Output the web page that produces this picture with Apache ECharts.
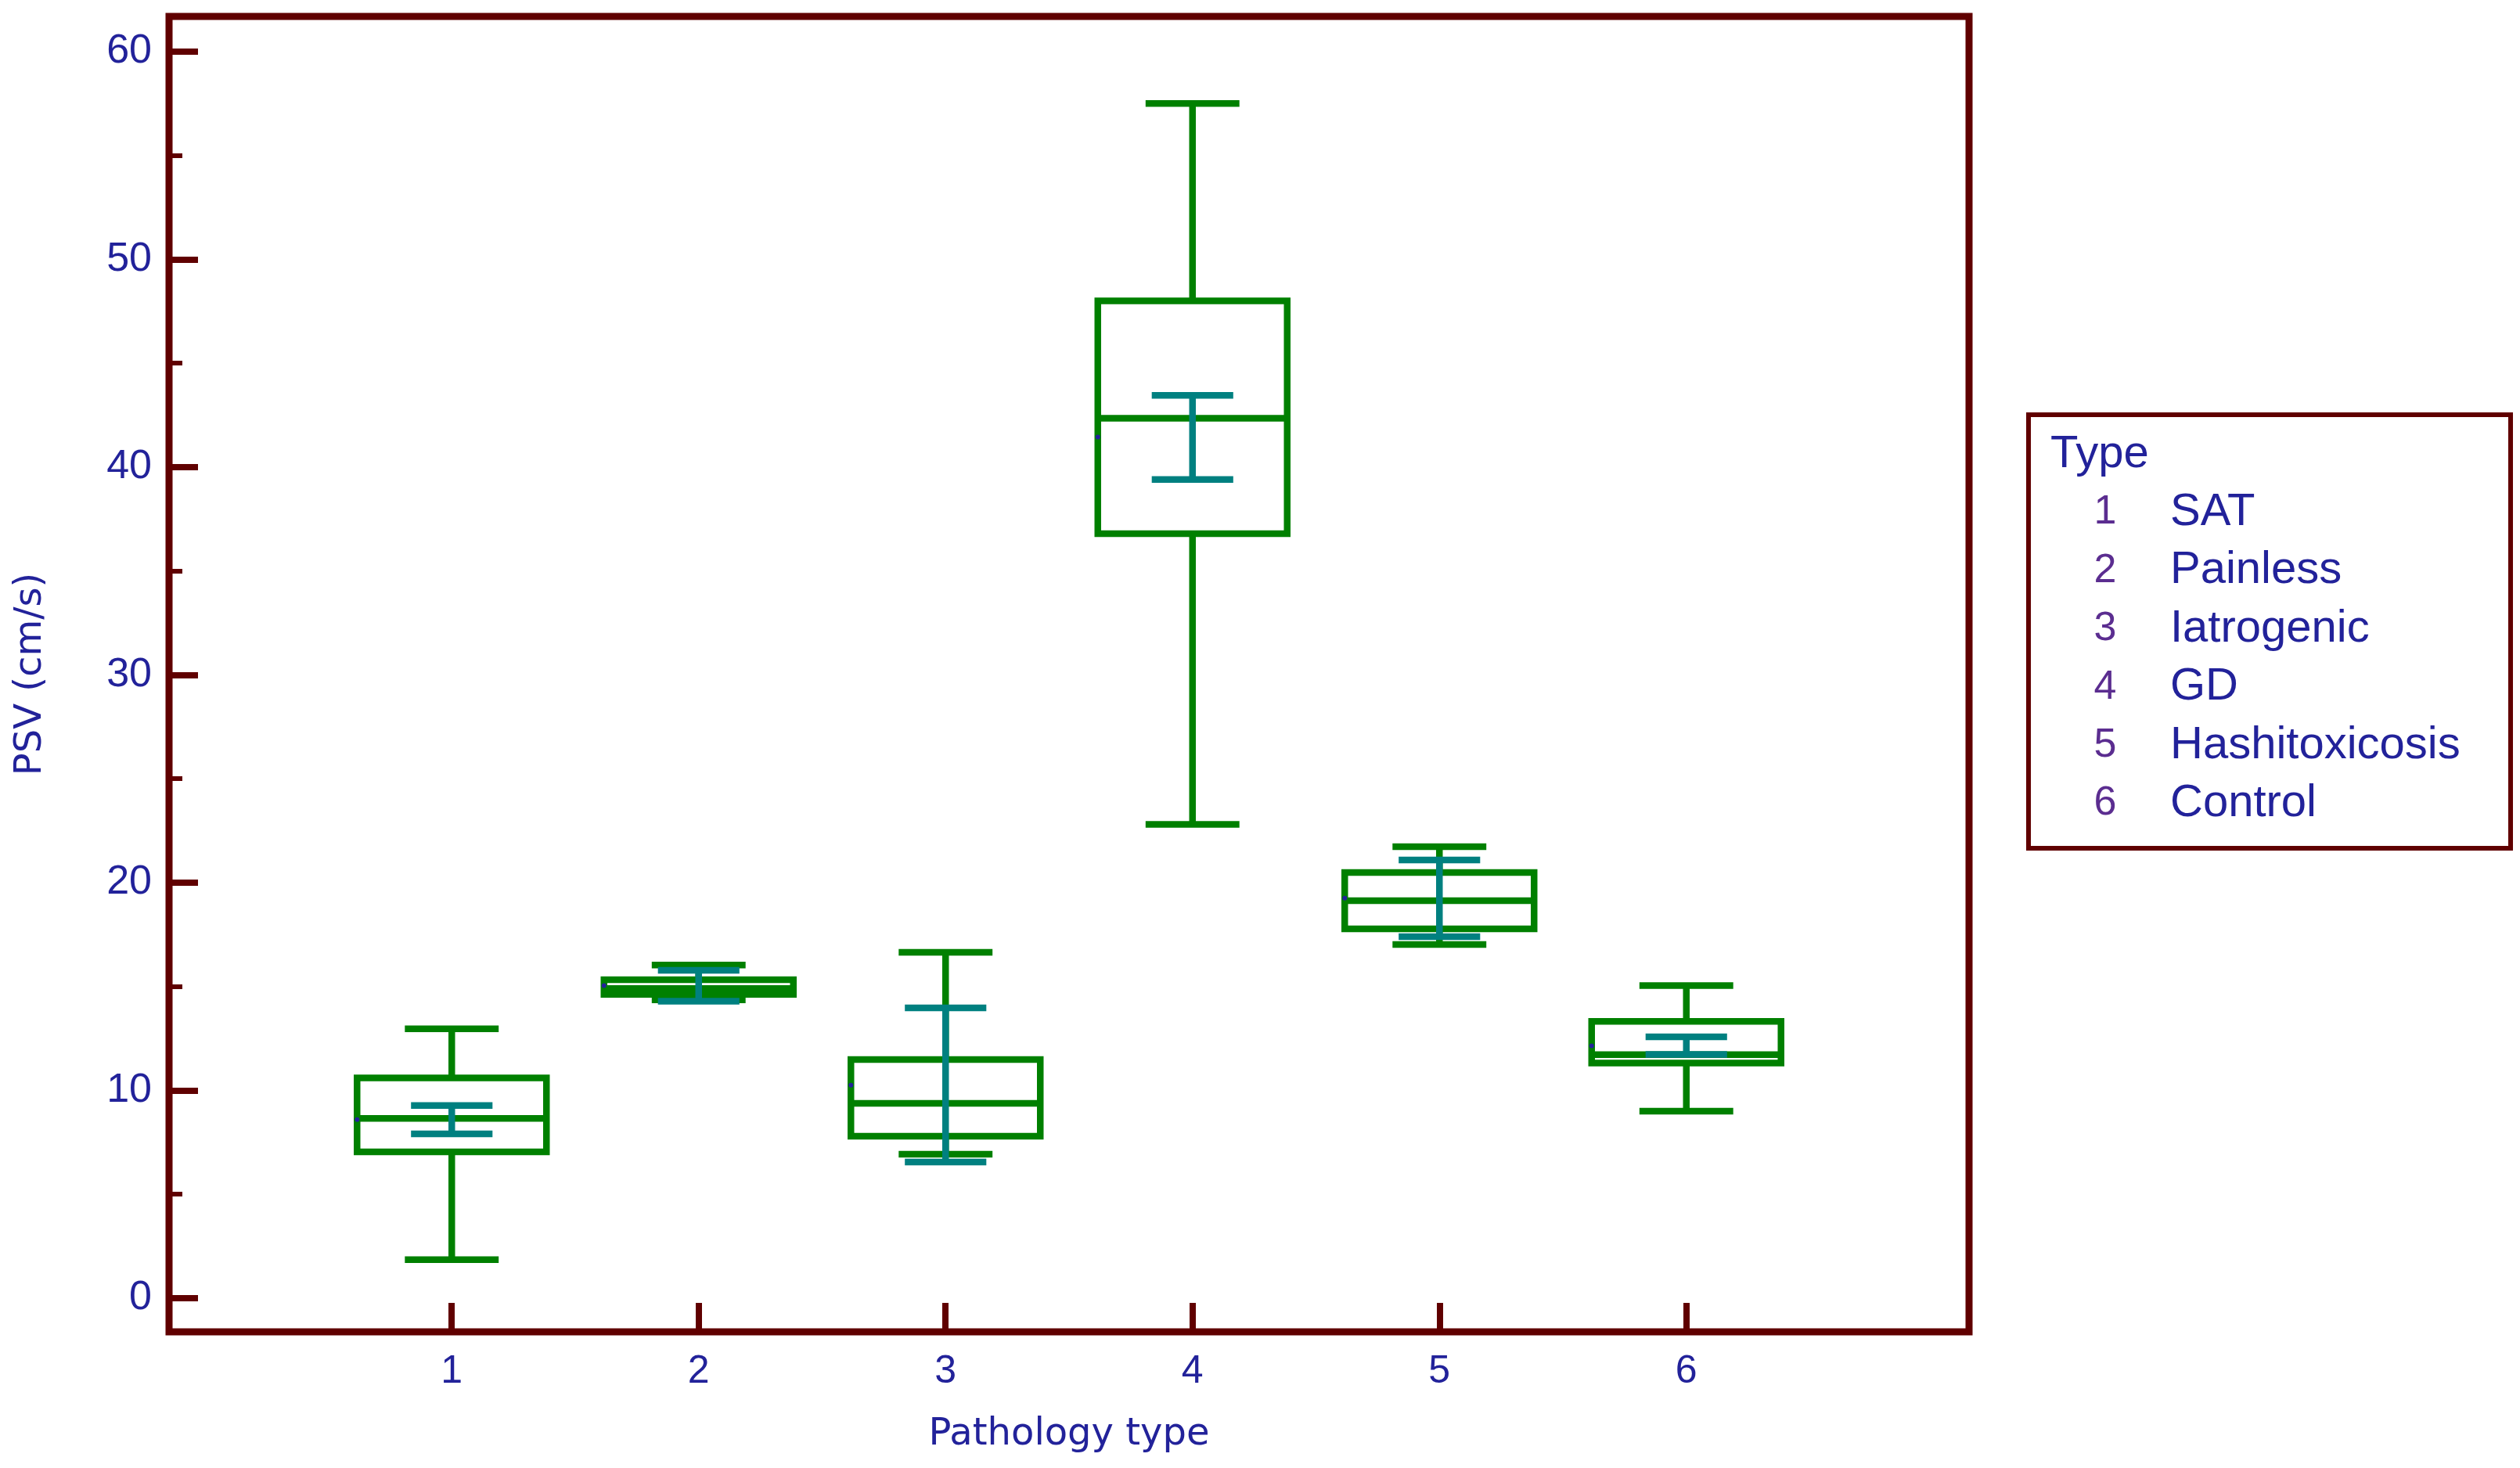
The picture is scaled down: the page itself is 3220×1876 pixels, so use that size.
<!DOCTYPE html>
<html>
<head>
<meta charset="utf-8">
<script src="https://cdn.jsdelivr.net/npm/echarts@6/dist/echarts.min.js"></script>
<style>
  html, body { margin: 0; padding: 0; background: #fff; }
  #chart { width: 3220px; height: 1876px; }
</style>
</head>
<body>
<div id="chart"></div>
<script>
// pathology groups
var categories = [1, 2, 3, 4, 5, 6];
var typeNames = ['SAT', 'Painless', 'Iatrogenic', 'GD', 'Hashitoxicosis', 'Control'];

// box plot values (PSV, cm/s)
var whiskerLow  = [1.85, 14.36, 6.93, 22.8, 17.02, 9.0];
var q1          = [7.04, 14.62, 7.8, 36.8, 17.78, 11.32];
var median      = [8.65, 14.9, 9.38, 42.35, 19.13, 11.72];
var q3          = [10.6, 15.33, 11.49, 48.0, 20.49, 13.32];
var whiskerHigh = [12.96, 16.03, 16.65, 57.5, 21.73, 15.05];

// 95% CI of the mean, and the mean itself
var ciLow  = [7.91, 14.29, 6.55, 39.4, 17.4, 11.73];
var ciHigh = [9.27, 15.78, 13.97, 43.45, 21.09, 12.58];
var means  = [8.6, 15.05, 10.25, 41.45, 19.25, 12.15];

var yTicks = [0, 10, 20, 30, 40, 50, 60];
var yMinorTicks = [5, 15, 25, 35, 45, 55];

var GREEN = '#008000',
    TEAL = '#008080',
    FRAME = '#600000',
    BLUE = '#22229a',
    PURPLE = '#5b2d90';

var X_MIN = -0.145, X_MAX = 7.145, Y_MIN = -1.62, Y_MAX = 61.69;

var boxData = categories.map(function (c, i) {
  return [c, whiskerLow[i], q1[i], median[i], q3[i], whiskerHigh[i]];
});
var ciData = categories.map(function (c, i) {
  return [c, ciLow[i], ciHigh[i], means[i]];
});

function lineStyle(color) {
  return { stroke: color, lineWidth: 8.5, fill: 'none' };
}

function hline(cx, half, y, color) {
  return { type: 'line', shape: { x1: cx - half, y1: y, x2: cx + half, y2: y }, style: lineStyle(color) };
}

function renderBox(params, api) {
  var x = api.value(0);
  var halfBox = api.size([0.767, 0])[0] / 2;
  var halfCap = api.size([0.38, 0])[0] / 2;
  var lo = api.coord([x, api.value(1)]);
  var b1 = api.coord([x, api.value(2)]);
  var md = api.coord([x, api.value(3)]);
  var b3 = api.coord([x, api.value(4)]);
  var hi = api.coord([x, api.value(5)]);
  var cx = lo[0];
  return {
    type: 'group',
    children: [
      { type: 'line', shape: { x1: cx, y1: b3[1], x2: cx, y2: hi[1] }, style: lineStyle(GREEN) },
      { type: 'line', shape: { x1: cx, y1: b1[1], x2: cx, y2: lo[1] }, style: lineStyle(GREEN) },
      hline(cx, halfCap, hi[1], GREEN),
      hline(cx, halfCap, lo[1], GREEN),
      { type: 'rect', shape: { x: cx - halfBox, y: b3[1], width: halfBox * 2, height: b1[1] - b3[1] }, style: lineStyle(GREEN) },
      hline(cx, halfBox, md[1], GREEN)
    ]
  };
}

function renderCI(params, api) {
  var x = api.value(0);
  var halfBox = api.size([0.767, 0])[0] / 2;
  var halfCap = api.size([0.33, 0])[0] / 2;
  var lo = api.coord([x, api.value(1)]);
  var hi = api.coord([x, api.value(2)]);
  var mn = api.coord([x, api.value(3)]);
  var cx = lo[0];
  return {
    type: 'group',
    children: [
      { type: 'line', shape: { x1: cx, y1: lo[1], x2: cx, y2: hi[1] }, style: lineStyle(TEAL) },
      hline(cx, halfCap, lo[1], TEAL),
      hline(cx, halfCap, hi[1], TEAL),
      { type: 'circle', shape: { cx: cx - halfBox, cy: mn[1], r: 3 }, style: { fill: BLUE } }
    ]
  };
}

// legend box drawn as graphic
var legendChildren = [
  { type: 'rect', shape: { x: 2592, y: 530, width: 616, height: 554 },
    style: { fill: '#fff', stroke: FRAME, lineWidth: 6 } },
  { type: 'text', style: { text: 'Type', x: 2620, y: 581, fill: BLUE,
    font: '58px "Liberation Sans"', textAlign: 'left', textVerticalAlign: 'middle' } }
];
typeNames.forEach(function (name, i) {
  var y = 655 + 74.4 * i;
  legendChildren.push({ type: 'text', style: { text: String(categories[i]), x: 2690, y: y, fill: PURPLE,
    font: '52px "Liberation Sans"', textAlign: 'center', textVerticalAlign: 'middle' } });
  legendChildren.push({ type: 'text', style: { text: name, x: 2773, y: y, fill: BLUE,
    font: '58px "Liberation Sans"', textAlign: 'left', textVerticalAlign: 'middle' } });
});

var chart = echarts.init(document.getElementById('chart'));
var option = {
  animation: false,
  backgroundColor: '#fff',
  grid: {
    left: 216, top: 21, right: 704, bottom: 174,
    show: true, borderColor: FRAME, borderWidth: 9, backgroundColor: 'transparent'
  },
  xAxis: {
    type: 'value',
    min: X_MIN,
    max: X_MAX,
    name: 'Pathology type',
    nameLocation: 'middle',
    nameGap: 108,
    nameTextStyle: { color: BLUE, fontSize: 48, fontFamily: 'DejaVu Sans' },
    axisLine: { show: false, onZero: false },
    splitLine: { show: false },
    axisTick: { inside: true, length: 37, lineStyle: { color: FRAME, width: 8 }, customValues: categories },
    axisLabel: { customValues: categories, margin: 26, color: BLUE, fontSize: 50, fontFamily: 'Liberation Sans' }
  },
  yAxis: [
    {
      type: 'value',
      min: Y_MIN,
      max: Y_MAX,
      name: 'PSV (cm/s)',
      nameLocation: 'middle',
      nameGap: 152,
      nameTextStyle: { color: BLUE, fontSize: 48, fontFamily: 'DejaVu Sans' },
      axisLine: { show: false, onZero: false },
      splitLine: { show: false },
      axisTick: { inside: true, length: 37, lineStyle: { color: FRAME, width: 8 }, customValues: yTicks },
      axisLabel: { customValues: yTicks, margin: 22, color: BLUE, fontSize: 52, fontFamily: 'Liberation Sans' }
    },
    {
      // minor ticks only
      type: 'value',
      min: Y_MIN,
      max: Y_MAX,
      position: 'left',
      axisLine: { show: false, onZero: false },
      splitLine: { show: false },
      axisLabel: { show: false },
      axisTick: { inside: true, length: 17, lineStyle: { color: FRAME, width: 6 }, customValues: yMinorTicks }
    }
  ],
  series: [
    {
      type: 'custom',
      name: 'box',
      renderItem: renderBox,
      clip: false,
      encode: { x: 0, y: [1, 2, 3, 4, 5] },
      data: boxData
    },
    {
      type: 'custom',
      name: 'ci',
      renderItem: renderCI,
      clip: false,
      encode: { x: 0, y: [1, 2, 3] },
      data: ciData
    }
  ],
  graphic: legendChildren
};
chart.setOption(option);
</script>
</body>
</html>
